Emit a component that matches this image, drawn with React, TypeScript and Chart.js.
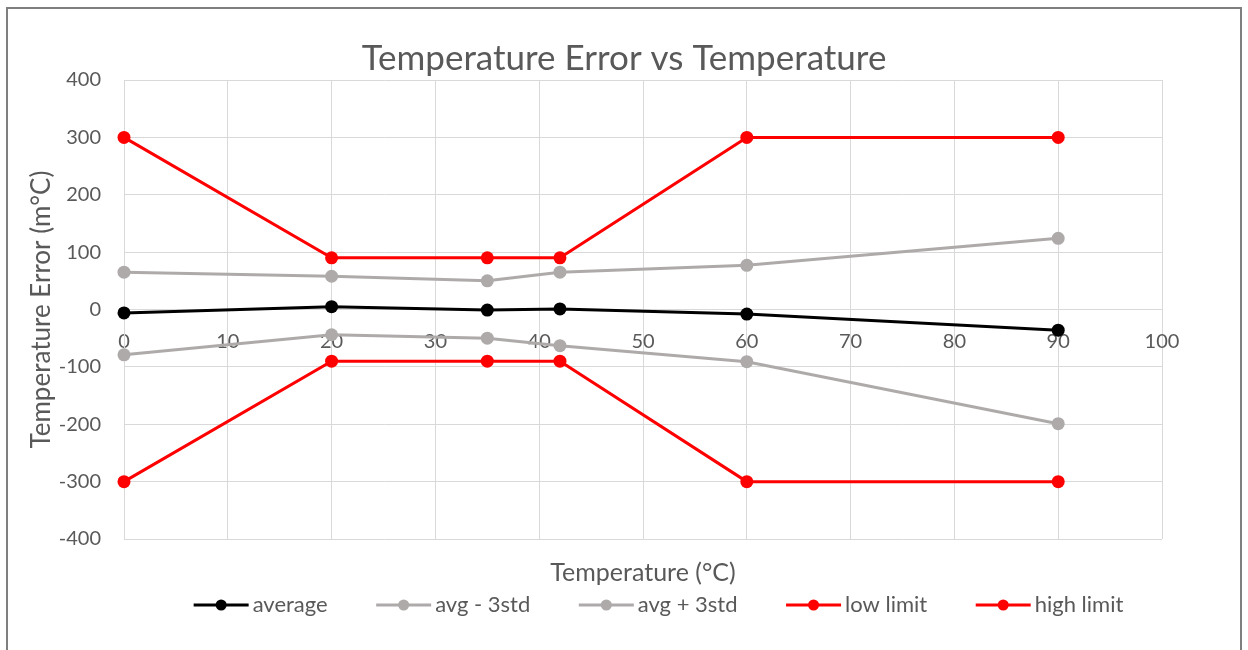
import React, { useEffect, useRef } from "react";
import { Chart, registerables } from "chart.js";

Chart.register(...registerables);

// ---- data ----
const temperatures = [0, 20, 35, 42, 60, 90];
const average = [-6, 5, -1, 1, -8, -36];
const avgMinus3std = [-79, -44, -50, -63, -91, -199];
const avgPlus3std = [65, 58, 50, 65, 77, 124];
const lowLimit = [-300, -90, -90, -90, -300, -300];
const highLimit = [300, 90, 90, 90, 300, 300];
const seriesLabels = ["average", "avg - 3std", "avg + 3std", "low limit", "high limit"];
const seriesColors = ["#000000", "#AEAAAA", "#AEAAAA", "#FF0000", "#FF0000"];

const TEXT = "#595959";
const GRID = "#D9D9D9";
const FONT = "Lato";

const legendPlugin = {
  id: "excelLegend",
  afterDraw(chart: any) {
    const ctx = chart.ctx as CanvasRenderingContext2D;
    const items = chart.data.datasets.map((d: any) => ({ label: d.label, color: d.borderColor }));
    ctx.save();
    ctx.font = `22px ${FONT}`;
    const lineLen = 55;
    const gapText = 4;
    const gapItem = 48.5;
    const widths = items.map((it: any) => lineLen + gapText + ctx.measureText(it.label).width);
    const total = widths.reduce((a: number, b: number) => a + b, 0) + gapItem * (items.length - 1);
    const centerX = 658.5;
    const y = 605;
    let x = centerX - total / 2;
    items.forEach((it: any, i: number) => {
      ctx.strokeStyle = it.color;
      ctx.fillStyle = it.color;
      ctx.lineWidth = 3;
      ctx.beginPath();
      ctx.moveTo(x, y);
      ctx.lineTo(x + lineLen, y);
      ctx.stroke();
      ctx.beginPath();
      ctx.arc(x + lineLen / 2, y, 5.5, 0, Math.PI * 2);
      ctx.fill();
      ctx.fillStyle = TEXT;
      ctx.textAlign = "left";
      ctx.textBaseline = "middle";
      ctx.fillText(it.label, x + lineLen + gapText, y);
      x += widths[i] + gapItem;
    });
    ctx.restore();
  },
};

export default function App() {
  const ref = useRef<HTMLCanvasElement>(null);

  useEffect(() => {
    if (!ref.current) return;
    Chart.defaults.font.family = FONT;
    const toPts = (ys: number[]) => temperatures.map((x, i) => ({ x, y: ys[i] }));
    const series = [average, avgMinus3std, avgPlus3std, lowLimit, highLimit];
    const datasets = series.map((ys, i) => ({
      label: seriesLabels[i],
      data: toPts(ys),
      borderColor: seriesColors[i],
      backgroundColor: seriesColors[i],
      pointBackgroundColor: seriesColors[i],
      pointBorderColor: seriesColors[i],
      pointRadius: 6.5,
      pointBorderWidth: 0,
      borderWidth: 3,
      showLine: true,
      tension: 0,
      clip: false as any,
      order: series.length - i,
      xAxisID: "x",
      yAxisID: "y",
    }));

    const chart = new Chart(ref.current, {
      type: "scatter",
      data: { datasets },
      plugins: [legendPlugin],
      options: {
        animation: false,
        responsive: true,
        maintainAspectRatio: false,
        layout: { padding: 0 },
        plugins: {
          legend: { display: false },
          tooltip: { enabled: false },
          title: {
            display: true,
            text: "Temperature Error vs Temperature",
            color: TEXT,
            font: { family: FONT, size: 35, weight: "normal" },
            padding: { top: 38, bottom: 0 },
          },
        },
        scales: {
          x: {
            type: "linear",
            position: { y: 0 } as any,
            min: 0,
            max: 100,
            ticks: { stepSize: 10, color: TEXT, font: { family: FONT, size: 20 }, padding: 20 },
            grid: { color: GRID, drawTicks: false },
            border: { color: GRID },
          },
          x2: {
            type: "linear",
            axis: "x",
            position: "bottom",
            min: 0,
            max: 100,
            ticks: { display: false },
            grid: { display: false, drawTicks: false },
            border: { display: false },
            title: {
              display: true,
              text: "Temperature (°C)",
              color: TEXT,
              font: { family: FONT, size: 25 },
              padding: { top: 0, bottom: 62 },
            },
            afterFit: (s: any) => {
              s.height = 111;
            },
          },
          y: {
            type: "linear",
            position: "left",
            min: -400,
            max: 400,
            ticks: { stepSize: 100, color: TEXT, font: { family: FONT, size: 20 }, padding: 23 },
            grid: { color: GRID, drawTicks: false },
            border: { color: GRID },
            title: {
              display: true,
              text: "Temperature Error (m°C)",
              color: TEXT,
              font: { family: FONT, size: 26 },
              padding: { top: 26.4, bottom: 0 },
            },
            afterFit: (s: any) => {
              s.width = 124;
            },
          },
          yR: {
            type: "linear",
            axis: "y",
            position: "right",
            ticks: { display: false },
            grid: { display: false, drawTicks: false },
            border: { display: false },
            afterFit: (s: any) => {
              s.width = 86;
            },
          },
        } as any,
      },
    });
    return () => chart.destroy();
  }, []);

  return (
    <>
      <div style={{ position: "absolute", left: 0, top: 0, width: 1248, height: 650 }}>
        <canvas ref={ref} style={{ display: "block" }} />
      </div>
      <div
        style={{
          position: "absolute",
          left: 6,
          top: 7,
          width: 1236,
          height: 643,
          border: "2px solid #7f7f7f",
          borderBottom: "none",
          boxSizing: "border-box",
          pointerEvents: "none",
        }}
      />
    </>
  );
}
